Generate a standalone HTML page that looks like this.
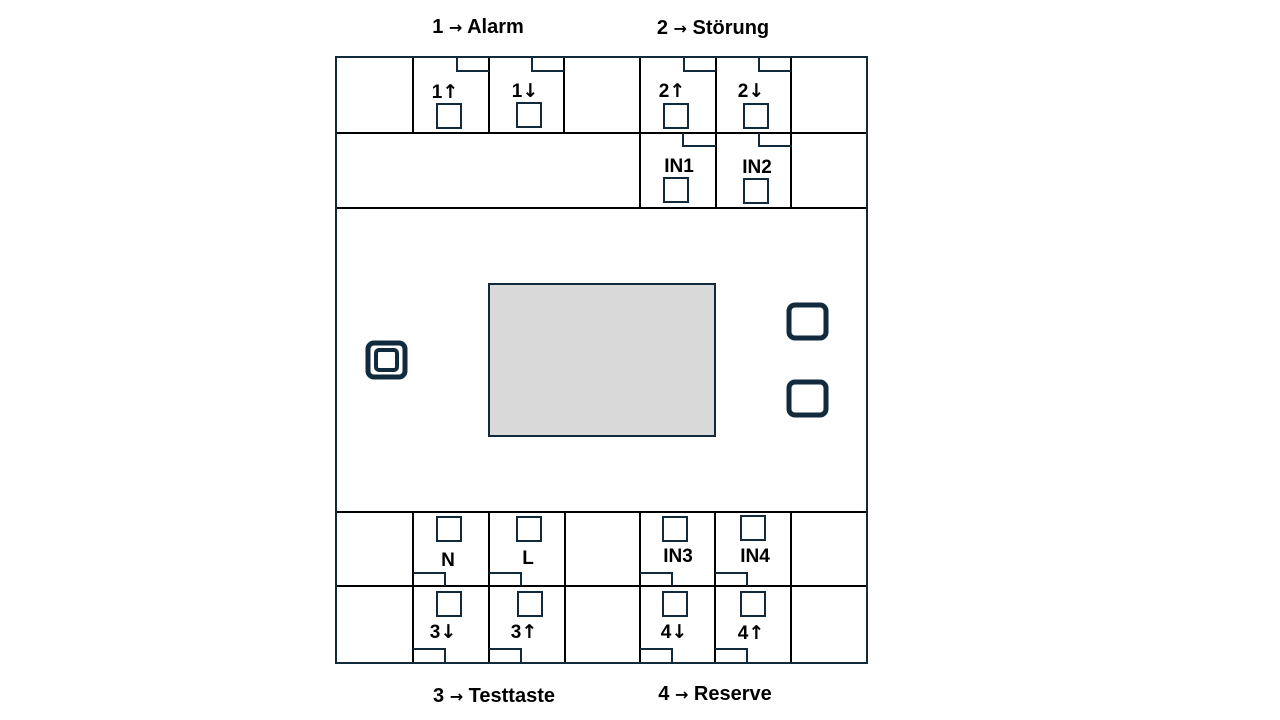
<!DOCTYPE html>
<html><head><meta charset="utf-8"><style>html,body{margin:0;padding:0;background:#fff}svg{display:block}text{font-family:"Liberation Sans",sans-serif;font-weight:bold;fill:#000}.a{font-family:"DejaVu Sans",sans-serif;font-weight:bold}</style></head><body>
<svg width="1280" height="720" viewBox="0 0 1280 720">
<g font-size="20" text-anchor="middle">
<text x="478" y="33">1 <tspan class="a" font-size="16">→</tspan> Alarm</text>
<text x="713" y="34">2 <tspan class="a" font-size="16">→</tspan> Störung</text>
<text x="494" y="702">3 <tspan class="a" font-size="16">→</tspan> Testtaste</text>
<text x="715" y="700">4 <tspan class="a" font-size="16">→</tspan> Reserve</text>
</g>
<g stroke="#000" stroke-width="2" fill="none">
<line x1="336" y1="133" x2="867" y2="133"/>
<line x1="336" y1="208" x2="867" y2="208"/>
<line x1="336" y1="512" x2="867" y2="512"/>
<line x1="336" y1="586" x2="867" y2="586"/>
<path d="M413 57V133M489 57V133M564 57V133M640 57V208M716 57V208M791 57V208"/>
<path d="M413 512V663M489 512V663M565 512V663M640 512V663M715 512V663M791 512V663"/>
</g>
<g stroke="#112b3c" stroke-width="2" fill="none">
<rect x="336" y="57" width="531" height="606"/>
<path d="M457 57V71H489M532 57V71H564M684 57V71H716M759 57V71H791"/>
<path d="M683 133V146H716M759 133V146H792"/>
<path d="M413 573H445V586M489 573H521V586M640 573H672V586M715 573H747V586"/>
<path d="M413 649H445V663M489 649H521V663M640 649H672V663M715 649H747V663"/>
<rect x="437" y="104" width="24" height="24"/><rect x="517" y="103" width="24" height="24"/>
<rect x="664" y="104" width="24" height="24"/><rect x="744" y="104" width="24" height="24"/>
<rect x="664" y="178" width="24" height="24"/><rect x="744" y="179" width="24" height="24"/>
<rect x="437" y="517" width="24" height="24"/><rect x="517" y="517" width="24" height="24"/>
<rect x="663" y="517" width="24" height="24"/><rect x="741" y="516" width="24" height="24"/>
<rect x="437" y="592" width="24" height="24"/><rect x="518" y="592" width="24" height="24"/>
<rect x="663" y="592" width="24" height="24"/><rect x="741" y="592" width="24" height="24"/>
<rect x="489" y="284" width="226" height="152" fill="#d9d9d9"/>
</g>
<g stroke="#112b3c" stroke-width="5" fill="none">
<rect x="368" y="343" width="37" height="34" rx="6"/>
<rect x="376" y="350" width="21" height="20" rx="3" stroke-width="4"/>
<rect x="789" y="305" width="37" height="33" rx="6"/>
<rect x="789" y="382" width="37" height="33" rx="6"/>
</g>
<g font-size="19" text-anchor="middle">
<text x="445" y="98">1<tspan class="a">↑</tspan></text><text x="525" y="97">1<tspan class="a">↓</tspan></text>
<text x="672" y="97">2<tspan class="a">↑</tspan></text><text x="751" y="97">2<tspan class="a">↓</tspan></text>
<text x="679" y="172">IN1</text><text x="757" y="173">IN2</text>
<text x="448" y="566">N</text><text x="528" y="564">L</text>
<text x="678" y="562">IN3</text><text x="755" y="562">IN4</text>
<text x="443" y="638">3<tspan class="a">↓</tspan></text><text x="524" y="638">3<tspan class="a">↑</tspan></text>
<text x="674" y="638">4<tspan class="a">↓</tspan></text><text x="751" y="639">4<tspan class="a">↑</tspan></text>
</g>
</svg>
</body></html>
